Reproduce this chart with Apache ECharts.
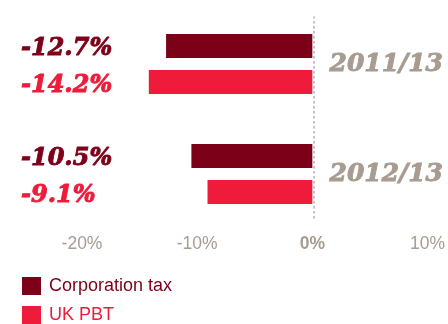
<!DOCTYPE html>
<html>
<head>
<meta charset="utf-8">
<script src="https://cdn.jsdelivr.net/npm/echarts@6/dist/echarts.min.js"></script>
<style>
  html, body { margin: 0; padding: 0; background: #ffffff; }
  #chart { width: 448px; height: 324px; }
</style>
</head>
<body>
<div id="chart"></div>
<script>
// Periods shown as groups, top to bottom
const periods = ['2011/13', '2012/13'];
// Percentage change per period
const corporationTax = [-12.7, -10.5];
const ukPbt = [-14.2, -9.1];
// Horizontal scale
const xMin = -20;
const xMax = 10;
const xStep = 10;

const seriesNames = ['Corporation tax', 'UK PBT'];
const colors = ['#7d0019', '#ee1b3a'];
const grey = '#a89c91';

const fmt = v => v.toFixed(1) + '%';
const serif = { fontFamily: 'DejaVu Serif', fontStyle: 'italic', fontWeight: 'bold' };
// heavier serif figures: outline in the fill colour
const heavy = c => Object.assign({ color: c, textBorderColor: c, textBorderWidth: 0.9 }, serif);

const chart = echarts.init(document.getElementById('chart'));
chart.setOption({
  animation: false,
  grid: [
    { left: 82, right: 18, top: 9, height: 220 },
    { left: 82, right: 18, top: 17, bottom: 106 }
  ],
  xAxis: [
    {
      type: 'value', gridIndex: 0, min: xMin, max: xMax, interval: xStep,
      axisLine: { show: false }, axisTick: { show: false }, splitLine: { show: false },
      axisLabel: {
        margin: 6,
        color: grey,
        fontFamily: 'Liberation Sans',
        fontSize: 17.5,
        formatter: v => v === 0 ? '{z|0%}' : v + '%',
        rich: { z: { fontWeight: 'bold', color: grey, fontFamily: 'Liberation Sans', fontSize: 17.5 } }
      }
    },
    {
      type: 'value', gridIndex: 1, min: xMin, max: xMax, interval: xStep, show: false
    }
  ],
  yAxis: [
    {
      type: 'category', gridIndex: 0, data: periods, inverse: true,
      axisLine: { show: false }, axisTick: { show: false }, splitLine: { show: false },
      axisLabel: {
        margin: 61,
        align: 'left',
        padding: [6, 0, 0, 0],
        formatter: (val, i) => '{a|' + fmt(corporationTax[i]) + '}\n{b|' + fmt(ukPbt[i]) + '}',
        rich: {
          a: Object.assign({ fontSize: 24, lineHeight: 37 }, heavy(colors[0])),
          b: Object.assign({ fontSize: 24, lineHeight: 37 }, heavy(colors[1]))
        }
      }
    },
    {
      type: 'category', gridIndex: 0, data: periods, inverse: true, position: 'right',
      axisLine: { show: false }, axisTick: { show: false }, splitLine: { show: false },
      axisLabel: Object.assign({
        inside: true,
        margin: 98,
        align: 'left',
        fontSize: 25
      }, heavy(grey))
    },
    {
      // zero reference line
      type: 'value', gridIndex: 1, min: 0, max: 1,
      axisLine: { show: true, onZero: true, lineStyle: { color: '#b5aea8', width: 1.5, type: [1.5, 3.5] } },
      axisTick: { show: false }, axisLabel: { show: false }, splitLine: { show: false }
    }
  ],
  legend: {
    orient: 'vertical',
    left: 22,
    top: 277,
    padding: 0,
    itemWidth: 19,
    itemHeight: 18,
    itemGap: 11,
    icon: 'rect',
    data: seriesNames.map((n, i) => ({
      name: n,
      textStyle: { color: colors[i], fontFamily: 'Liberation Sans', fontSize: 18, padding: [0, 0, 0, 3] }
    }))
  },
  series: [
    {
      name: seriesNames[0], type: 'bar', xAxisIndex: 0, yAxisIndex: 0,
      data: corporationTax, barWidth: 24, barGap: '50%',
      itemStyle: { color: colors[0] }
    },
    {
      name: seriesNames[1], type: 'bar', xAxisIndex: 0, yAxisIndex: 0,
      data: ukPbt, barWidth: 24, barGap: '50%',
      itemStyle: { color: colors[1] }
    }
  ]
});
</script>
</body>
</html>
